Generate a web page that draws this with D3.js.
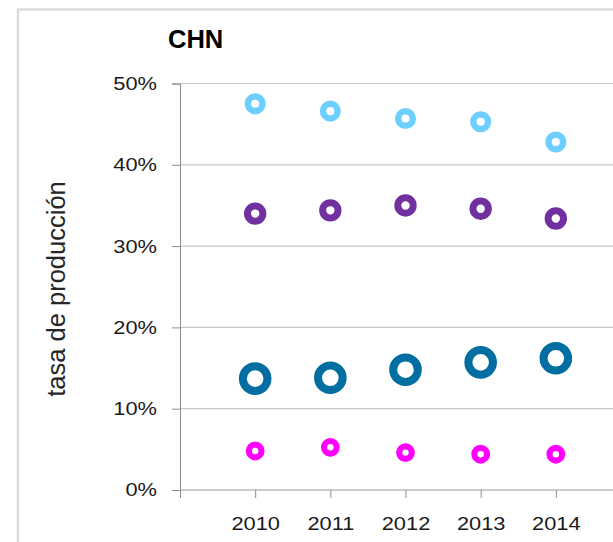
<!DOCTYPE html>
<html>
<head>
<meta charset="utf-8">
<script src="https://cdn.jsdelivr.net/npm/d3@7"></script>
<style>
  body { margin: 0; background: #fff; }
  svg { display: block; font-family: "Liberation Sans", Arial, sans-serif; }
</style>
</head>
<body>
<svg id="chart" width="613" height="542"></svg>
<script>
// years on the x axis
var years = [2010, 2011, 2012, 2013, 2014];
// y tick values (percent)
var yTicks = [0, 10, 20, 30, 40, 50];

// series values, percent
var lightBlue = [47.5, 46.6, 45.7, 45.3, 42.8];
var purple = [34.0, 34.4, 35.0, 34.6, 33.4];
var darkBlue = [13.7, 13.8, 14.8, 15.7, 16.2];
var magenta = [4.8, 5.25, 4.6, 4.4, 4.4];

var seriesList = [
  {values: lightBlue, color: '#6dcfff', r: 7.3, sw: 6.5},
  {values: purple, color: '#7030a0', r: 7.7, sw: 7},
  {values: darkBlue, color: '#006ea0', r: 12.3, sw: 8},
  {values: magenta, color: '#ff00ff', r: 6.3, sw: 6.2}
];

var svg = d3.select('#chart');
var sx = 1.18; // tick labels look stretched horizontally

// frame of the chart area
svg.append('rect')
  .attr('x', 18).attr('y', 9.5)
  .attr('width', 700).attr('height', 700)
  .attr('fill', 'none')
  .attr('stroke', '#dcdcdc')
  .attr('stroke-width', 2.5);

var x = d3.scaleLinear().domain([2009, 2015]).range([180, 631]);
var y = d3.scaleLinear().domain([0, 50]).range([490, 83.5]);

// gridlines
svg.append('g')
  .selectAll('line')
  .data(yTicks.slice(1))
  .join('line')
  .attr('x1', 180).attr('x2', 613)
  .attr('y1', function(d) { return y(d); })
  .attr('y2', function(d) { return y(d); })
  .attr('stroke', '#c8c8c8')
  .attr('stroke-width', 1.2);

// y axis
var yAxis = svg.append('g')
  .attr('transform', 'translate(180,0)')
  .call(d3.axisLeft(y).tickValues(yTicks).tickSize(8)
    .tickFormat(function(d) { return d + '%'; }));
yAxis.select('.domain').attr('stroke', '#8c8c8c');
yAxis.selectAll('.tick line').attr('stroke', '#8c8c8c');
yAxis.selectAll('text')
  .attr('x', -23 / sx)
  .attr('transform', 'scale(' + sx + ',1)')
  .attr('fill', '#1a1a1a')
  .style('font-size', '18.5px');

// x axis
var xAxis = svg.append('g')
  .attr('transform', 'translate(0,490)')
  .call(d3.axisBottom(x).tickValues([2009].concat(years)).tickSize(8).tickPadding(19)
    .tickFormat(function(d) { return years.indexOf(d) >= 0 ? d : ''; }));
xAxis.select('.domain').remove();
xAxis.append('line')
  .attr('x1', 180).attr('x2', 613)
  .attr('stroke', '#9a9a9a').attr('stroke-width', 1.2);
xAxis.selectAll('.tick line').attr('stroke', '#8c8c8c');
xAxis.selectAll('text')
  .attr('transform', 'scale(' + sx + ',1)')
  .attr('fill', '#1a1a1a')
  .style('font-size', '18.5px');

// markers (rings)
seriesList.forEach(function(s) {
  svg.append('g')
    .selectAll('circle')
    .data(s.values)
    .join('circle')
    .attr('cx', function(d, i) { return x(years[i]); })
    .attr('cy', function(d) { return y(d); })
    .attr('r', s.r)
    .attr('fill', 'none')
    .attr('stroke', s.color)
    .attr('stroke-width', s.sw);
});

// title
svg.append('text')
  .attr('x', 168).attr('y', 48)
  .attr('font-weight', 'bold')
  .style('font-size', '25.5px')
  .attr('fill', '#000')
  .text('CHN');

// y axis title
svg.append('text')
  .attr('transform', 'translate(65,289) rotate(-90)')
  .attr('text-anchor', 'middle')
  .style('font-size', '25.5px')
  .attr('fill', '#262626')
  .text('tasa de producción');
</script>
</body>
</html>
